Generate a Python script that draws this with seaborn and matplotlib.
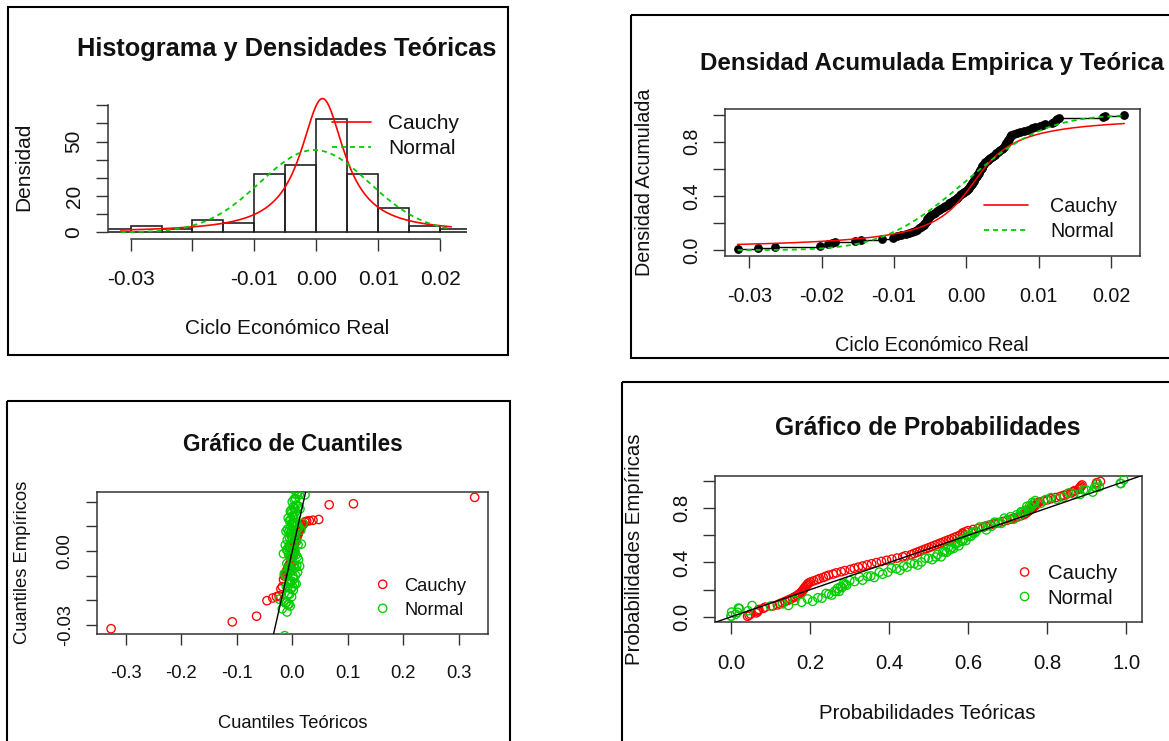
import numpy as np
import pandas as pd
import matplotlib
matplotlib.use("Agg")
import matplotlib.pyplot as plt
import seaborn as sns
from statistics import NormalDist
from matplotlib.patches import Rectangle
from matplotlib.lines import Line2D

sns.set_theme(style="white")
plt.rcParams['font.family'] = ['Liberation Sans', 'DejaVu Sans']

# ---------------- data ----------------
ciclo = [
    -0.0316, -0.0288, -0.0265, -0.0202, -0.0191, -0.0186, -0.0182, -0.0154, -0.0145, -0.0116, -0.0102,
    -0.0096, -0.0090, -0.0084, -0.0079, -0.0075, -0.0071, -0.0068, -0.0065, -0.0063, -0.0061,
    -0.0059, -0.0058, -0.0057, -0.0056, -0.0055, -0.0054, -0.0053, -0.0052, -0.0051,
    -0.0049, -0.0046, -0.0043, -0.0041, -0.0038, -0.0036, -0.0034, -0.0031, -0.0029, -0.0026, -0.0024,
    -0.0021, -0.0019, -0.0017, -0.0015, -0.0013, -0.0011, -0.0009, -0.0007, -0.0005, -0.0003, -0.0001,
    0.0001, 0.0002, 0.0004, 0.0005, 0.0006, 0.0007, 0.0008, 0.0009, 0.0010, 0.0011, 0.0012, 0.0013,
    0.0014, 0.0015, 0.0016,
    0.0017, 0.0018, 0.0019, 0.0020, 0.0021, 0.0022, 0.0022, 0.0023, 0.0024,
    0.0026, 0.0028, 0.0030, 0.0031, 0.0033, 0.0035, 0.0037,
    0.0039, 0.0041, 0.0043, 0.0045, 0.0047, 0.0049,
    0.0051, 0.0052, 0.0053, 0.0054, 0.0055, 0.0056, 0.0057, 0.0058, 0.0059, 0.0060, 0.0061, 0.0062,
    0.0066, 0.0070, 0.0074, 0.0079, 0.0085, 0.0090, 0.0095,
    0.0102, 0.0106, 0.0109, 0.0118, 0.0121, 0.0123, 0.0125, 0.0128,
    0.0188, 0.0192, 0.0218,
]
# vertical jitter of the green (Normal) markers in the Q-Q and P-P plots, in thousandths
green_jitter = [
    12, -7, 3, -15, 18, -2, 9, -19, 5, 14,
    -11, 0, 17, -6, -13, 8, 2, -18, 11, -4,
    15, -9, 6, -16, 19, -1, -12, 4, 13, -8,
    7, -17, 10, -3, 16, -14, 1, 12, -10, 5,
    -20, 9, 18, -5, -11, 3, 14, -7, 0, 17,
    -15, 6, -2, 11, -19, 8, 15, -13, 2, -6,
    19, -9, 4, 13, -16, 10, -1, -12, 7, 16,
    -4, -18, 1, 12, -8, 9, -14, 5, 18, -3,
    -10, 14, -17, 3, 7, -11, 20, -5, 11, -15,
    0, 16, -7, 6, -19, 13, -2, 9, -12, 4,
    17, -9, 2, -16, 10, -6, 15, -13, 8, -1,
    12, -18, 5, 19, -4, -10, 14, -8, 1,
]
bin_edges = [-0.035, -0.030, -0.025, -0.020, -0.015, -0.010, -0.005, 0.000,
             0.005, 0.010, 0.015, 0.020, 0.025]
cauchy_loc = 0.0010
cauchy_scale = 0.00432
normal_mean = -0.0003
normal_sd = 0.0088
legend_labels = ["Cauchy", "Normal"]

titles = ["Histograma y Densidades Teóricas", "Densidad Acumulada Empirica y Teórica",
          "Gráfico de Cuantiles", "Gráfico de Probabilidades"]
xlabels = ["Ciclo Económico Real", "Ciclo Económico Real", "Cuantiles Teóricos", "Probabilidades Teóricas"]
ylabels = ["Densidad", "Densidad Acumulada", "Cuantiles Empíricos", "Probabilidades Empíricas"]

p1_xticks = [-0.03, -0.02, -0.01, 0.00, 0.01, 0.02]
p1_xticklabels = ["-0.03", "", "-0.01", "0.00", "0.01", "0.02"]
p1_yticks = [0, 10, 20, 30, 40, 50, 60, 70]
p1_yticklabels = ["0", "", "20", "", "", "50", "", ""]
p2_xticks = [-0.03, -0.02, -0.01, 0.00, 0.01, 0.02]
p2_xticklabels = ["-0.03", "-0.02", "-0.01", "0.00", "0.01", "0.02"]
p2_yticks = [0.0, 0.2, 0.4, 0.6, 0.8, 1.0]
p2_yticklabels = ["0.0", "", "0.4", "", "0.8", ""]
p3_xticks = [-0.3, -0.2, -0.1, 0.0, 0.1, 0.2, 0.3]
p3_xticklabels = ["-0.3", "-0.2", "-0.1", "0.0", "0.1", "0.2", "0.3"]
p3_yticks = [-0.03, -0.02, -0.01, 0.00, 0.01, 0.02]
p3_yticklabels = ["-0.03", "", "", "0.00", "", ""]
p4_xticks = [0.0, 0.2, 0.4, 0.6, 0.8, 1.0]
p4_xticklabels = ["0.0", "0.2", "0.4", "0.6", "0.8", "1.0"]
p4_yticks = [0.0, 0.2, 0.4, 0.6, 0.8, 1.0]
p4_yticklabels = ["0.0", "", "0.4", "", "0.8", ""]

RED = "#FF0000"
GREEN = "#00CD00"
TXT = "#111111"
AXC = "#333333"

# ---------------- derived quantities ----------------
x = np.sort(np.array(ciclo))
n = len(x)
ranks = np.arange(1, n + 1)
ecdf_y = ranks / n
ppts = (ranks - 0.5) / n
jit = np.array(green_jitter) / 1000.0
nd = NormalDist(normal_mean, normal_sd)


def cauchy_pdf(v):
    z = (v - cauchy_loc) / cauchy_scale
    return 1.0 / (np.pi * cauchy_scale * (1 + z ** 2))


def cauchy_cdf(v):
    return 0.5 + np.arctan((v - cauchy_loc) / cauchy_scale) / np.pi


def cauchy_q(p):
    return cauchy_loc + cauchy_scale * np.tan(np.pi * (p - 0.5))


grid = np.linspace(x.min(), x.max(), 301)
dens_c = cauchy_pdf(grid)
dens_n = np.array([nd.pdf(v) for v in grid])
cdf_c = cauchy_cdf(grid)
cdf_n = np.array([nd.cdf(v) for v in grid])
qq_c = cauchy_q(ppts)
qq_n = np.array([nd.inv_cdf(p) for p in ppts])
pp_c = cauchy_cdf(x)
pp_n = np.array([nd.cdf(v) for v in x])

# ---------------- figure ----------------
W, H = 1169, 741
fig = plt.figure(figsize=(W / 100, H / 100), dpi=100, facecolor="white")


def add_ax(box):
    x0, y0, x1, y1 = box
    ax = fig.add_axes([x0 / W, 1 - y1 / H, (x1 - x0) / W, (y1 - y0) / H])
    ax.patch.set_alpha(0)
    return ax


def style(ax, box, fs, tl, xt_c, yt_c, xticks, xtl, yticks, ytl, full_box=True):
    x0, y0, x1, y1 = box
    em = fs * 100 / 72
    xpad = (xt_c - y1 - tl - 0.358 * em) * 0.72
    ypad = (x0 - tl - yt_c - 0.568 * em) * 0.72
    ax.set_xticks(xticks)
    ax.set_xticklabels(xtl)
    ax.set_yticks(yticks)
    ax.set_yticklabels(ytl, rotation=90, va="center")
    ax.tick_params(axis="x", direction="out", length=tl * 0.72, width=1.0, color=AXC,
                   pad=xpad, labelsize=fs, labelcolor=TXT, bottom=True, top=False)
    ax.tick_params(axis="y", direction="out", length=tl * 0.72, width=1.0, color=AXC,
                   pad=ypad, labelsize=fs, labelcolor=TXT, left=True, right=False)
    for s in ax.spines.values():
        s.set_color(AXC)
        s.set_linewidth(1.1)
        s.set_visible(full_box)
    ax.set_xlabel("")
    ax.set_ylabel("")
    ax.grid(False)


ov = fig.add_axes([0, 0, 1, 1], zorder=20)
ov.set_xlim(0, W)
ov.set_ylim(H, 0)
ov.axis("off")


def ctext(xp, yp, s, pt, bold=False, ha="center", rot=False):
    em = pt * 100 / 72
    if not rot:
        ov.text(xp, yp + 0.358 * em, s, fontsize=pt, fontweight="bold" if bold else "normal",
                ha=ha, va="baseline", color=TXT)
    else:
        ov.text(xp + 0.358 * em, yp, s, fontsize=pt, rotation=90, rotation_mode="anchor",
                ha="center", va="baseline", color=TXT)


def panel_text(i, tpos, xlpos, ylpos, fs, tfs):
    ctext(tpos[0], tpos[1], titles[i], tfs, bold=True)
    ctext(xlpos[0], xlpos[1], xlabels[i], fs)
    ctext(ylpos[0], ylpos[1], ylabels[i], fs, rot=True)


dash = (0, (2.8, 2.2))
MS = 36
MLW = 0.95

# ---- Panel 1: histogram + densities ----
b1 = (108.3, 94.0, 466.7, 239.0)
ax1 = add_ax(b1)
sns.histplot(x=x, bins=bin_edges, stat="density", fill=False, color="#222222",
             linewidth=1.2, ax=ax1)
sns.lineplot(x=grid, y=dens_c, color=RED, lw=1.2, ax=ax1, estimator=None, sort=False)
sns.lineplot(x=grid, y=dens_n, color=GREEN, lw=1.3, linestyle=dash, ax=ax1,
             estimator=None, sort=False)
ax1.set_xlim(-0.0336, 0.0243)
ax1.set_ylim(-3.69, 76.2)
style(ax1, b1, 15, 12, 277, 71.7, p1_xticks, p1_xticklabels, p1_yticks, p1_yticklabels,
      full_box=False)
ax1.spines["left"].set_visible(True)
ax1.spines["bottom"].set_visible(True)
ax1.spines["left"].set_bounds(0, 70)
ax1.spines["bottom"].set_bounds(-0.03, 0.02)
panel_text(0, (286.7, 46.7), (286.7, 327), (21.7, 166.5), 15, 18.3)
ov.add_line(Line2D([332, 371], [121.5, 121.5], color=RED, lw=1.2))
ov.add_line(Line2D([332, 371], [146.5, 146.5], color=GREEN, lw=1.3, linestyle=dash))
ctext(388.3, 121.5, legend_labels[0], 15, ha="left")
ctext(388.3, 146.5, legend_labels[1], 15, ha="left")

# ---- Panel 2: empirical & theoretical CDF ----
b2 = (724.8, 109.3, 1139.5, 255.5)
ax2 = add_ax(b2)
sns.ecdfplot(x=x, color="black", lw=1.0, ax=ax2)
sns.scatterplot(x=x, y=ecdf_y, color="black", s=40, linewidth=0, ax=ax2, legend=False, zorder=3)
sns.lineplot(x=grid, y=cdf_c, color=RED, lw=1.1, ax=ax2, estimator=None, sort=False, zorder=4)
sns.lineplot(x=grid, y=cdf_n, color=GREEN, lw=1.3, linestyle=dash, ax=ax2,
             estimator=None, sort=False, zorder=4)
ax2.set_xlim(-0.03337, 0.0239)
ax2.set_ylim(-0.04, 1.04)
style(ax2, b2, 14.2, 12, 294, 690, p2_xticks, p2_xticklabels, p2_yticks, p2_yticklabels)
panel_text(1, (932, 61), (932, 344), (643, 182.4), 14.2, 17.4)
ov.add_line(Line2D([984, 1028], [205, 205], color=RED, lw=1.2))
ov.add_line(Line2D([984, 1028], [230, 230], color=GREEN, lw=1.3, linestyle=dash))
ctext(1050, 205, legend_labels[0], 14.2, ha="left")
ctext(1050, 230, legend_labels[1], 14.2, ha="left")

# ---- Panel 3: Q-Q plot ----
b3 = (96.7, 491.7, 488.3, 634.0)
ax3 = add_ax(b3)
sns.scatterplot(x=qq_c, y=x, marker="o", s=MS, facecolor="none", edgecolor=RED,
                linewidth=MLW, ax=ax3, legend=False, zorder=3)
sns.scatterplot(x=qq_n, y=x + jit, marker="o", s=MS, facecolor="none", edgecolor=GREEN,
                linewidth=MLW, ax=ax3, legend=False, zorder=3)
ax3.axline((0, 0), slope=1, color="black", lw=1.0, zorder=4)
ax3.set_xlim(-0.3521, 0.3528)
ax3.set_ylim(-0.03374, 0.0241)
style(ax3, b3, 13.2, 11, 671.7, 63.3, p3_xticks, p3_xticklabels, p3_yticks, p3_yticklabels)
panel_text(2, (292.5, 443.3), (292.5, 721.7), (20, 562.8), 13.2, 16.3)
ov.scatter([382.7], [584.3], s=MS, facecolor="none", edgecolor=RED, linewidth=MLW)
ov.scatter([382.7], [608.3], s=MS, facecolor="none", edgecolor=GREEN, linewidth=MLW)
ctext(404, 584.3, legend_labels[0], 13.2, ha="left")
ctext(404, 608.3, legend_labels[1], 13.2, ha="left")

# ---- Panel 4: P-P plot ----
b4 = (715.2, 475.5, 1142.0, 622.3)
ax4 = add_ax(b4)
sns.scatterplot(x=pp_c, y=ppts, marker="o", s=MS, facecolor="none", edgecolor=RED,
                linewidth=MLW, ax=ax4, legend=False, zorder=3)
sns.scatterplot(x=pp_n, y=ppts + jit[::-1], marker="o", s=MS, facecolor="none", edgecolor=GREEN,
                linewidth=MLW, ax=ax4, legend=False, zorder=3)
ax4.axline((0, 0), slope=1, color="black", lw=1.0, zorder=4)
ax4.set_xlim(-0.04, 1.04)
ax4.set_ylim(-0.04, 1.04)
style(ax4, b4, 14.7, 12, 661, 680, p4_xticks, p4_xticklabels, p4_yticks, p4_yticklabels)
panel_text(3, (927.5, 426), (927.5, 711.7), (633, 549), 14.7, 17.7)
ov.scatter([1024.6], [572], s=MS, facecolor="none", edgecolor=RED, linewidth=MLW)
ov.scatter([1024.6], [596.5], s=MS, facecolor="none", edgecolor=GREEN, linewidth=MLW)
ctext(1047.8, 572, legend_labels[0], 14.7, ha="left")
ctext(1047.8, 596.5, legend_labels[1], 14.7, ha="left")

# ---- screenshot frames ----
for (fx, fy, fw, fh) in [(8.3, 7.3, 500.0, 347.7), (630.5, 15.0, 600.0, 343.0),
                         (7.3, 401.0, 502.7, 400.0), (621.8, 381.7, 600.0, 400.0)]:
    ov.add_patch(Rectangle((fx, fy), fw, fh, fill=False, edgecolor="black", lw=1.5))

fig.savefig("out.png", dpi=100, facecolor="white")
